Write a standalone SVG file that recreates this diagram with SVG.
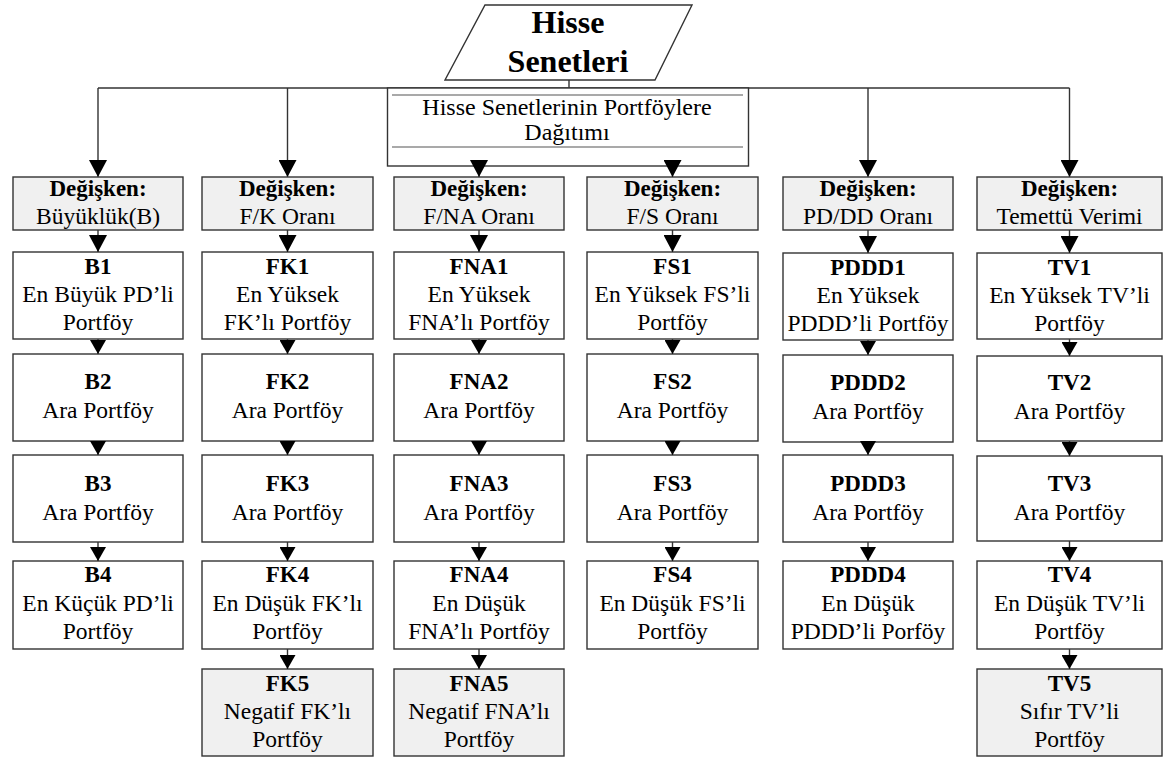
<svg xmlns="http://www.w3.org/2000/svg" width="1176" height="758" viewBox="0 0 1176 758">
  <style>
    .box { fill: #ffffff; stroke: #333333; stroke-width: 1.4; }
    .var { fill: #f0f0f0; stroke: #333333; stroke-width: 1.4; }
    .rule { stroke: #555555; stroke-width: 1.2; }
    .wire { fill: none; stroke: #333333; stroke-width: 1.4; }
    .big { marker-end: url(#headL); }
    .small { marker-end: url(#headS); }
    text { fill: #000000; }
    .m { text-anchor: middle; }
    .t { font-size: 23.5px; }
    .b { font-size: 23px; font-weight: bold; }
    .title { font-size: 32px; font-weight: bold; }
    .dist { font-size: 24px; }
  </style>
  <defs>
    <marker id="headL" viewBox="0 0 17 18" refX="17" refY="9" markerWidth="17" markerHeight="18" markerUnits="userSpaceOnUse" orient="auto">
      <path d="M0,0 L17,9 L0,18 Z" fill="#000000"/>
    </marker>
    <marker id="headS" viewBox="0 0 14 16" refX="14" refY="8" markerWidth="14" markerHeight="16" markerUnits="userSpaceOnUse" orient="auto">
      <path d="M0,0 L14,8 L0,16 Z" fill="#000000"/>
    </marker>
  </defs>

  <rect width="1176" height="758" fill="#ffffff"/>

  <!-- trunk: source to the six variables -->
  <g id="connectors">
    <path class="wire" d="M569,80 V88"/>
    <path class="wire" d="M98,88 H1069.5"/>
    <path class="wire big" d="M98,88 V177"/>
    <path class="wire big" d="M287.5,88 V177"/>
    <path class="wire big" d="M868,88 V177"/>
    <path class="wire big" d="M1069.5,88 V177"/>
  </g>

  <!-- distribution step -->
  <g id="dagitim" font-family="'Liberation Serif', 'Times New Roman', serif">
    <rect class="box" x="387.5" y="88" width="361" height="78"/>
    <line class="rule" x1="392" y1="95" x2="743" y2="95"/>
    <line class="rule" x1="392" y1="147" x2="743" y2="147"/>
    <text class="dist m" x="567" y="115">Hisse Senetlerinin Portföylere</text>
    <text class="dist m" x="567" y="140">Dağıtımı</text>
  </g>

  <!-- source -->
  <g id="hisse-senetleri" font-family="'Liberation Serif', 'Times New Roman', serif">
    <polygon class="box" points="485,5 692,5 655,80 445,80"/>
    <text class="title m" x="568" y="33">Hisse</text>
    <text class="title m" x="568" y="72">Senetleri</text>
  </g>

  <!-- variable headers -->
  <g id="var-b" font-family="'Liberation Serif', 'Times New Roman', serif"><rect class="var" x="13" y="177" width="170" height="53"/><text class="b m" x="98" y="196">Değişken:</text><text class="t m" x="98" y="224">Büyüklük(B)</text></g>
  <g id="var-fk" font-family="'Liberation Serif', 'Times New Roman', serif"><rect class="var" x="202" y="177" width="171" height="53"/><text class="b m" x="287.5" y="196">Değişken:</text><text class="t m" x="287.5" y="224">F/K Oranı</text></g>
  <g id="var-fna" font-family="'Liberation Serif', 'Times New Roman', serif"><rect class="var" x="394" y="177" width="170" height="53"/><text class="b m" x="479" y="196">Değişken:</text><text class="t m" x="479" y="224">F/NA Oranı</text></g>
  <g id="var-fs" font-family="'Liberation Serif', 'Times New Roman', serif"><rect class="var" x="587" y="177" width="171" height="53"/><text class="b m" x="672.5" y="196">Değişken:</text><text class="t m" x="672.5" y="224">F/S Oranı</text></g>
  <g id="var-pddd" font-family="'Liberation Serif', 'Times New Roman', serif"><rect class="var" x="783" y="177" width="170" height="53"/><text class="b m" x="868" y="196">Değişken:</text><text class="t m" x="868" y="224">PD/DD Oranı</text></g>
  <g id="var-tv" font-family="'Liberation Serif', 'Times New Roman', serif"><rect class="var" x="977" y="177" width="185" height="53"/><text class="b m" x="1069.5" y="196">Değişken:</text><text class="t m" x="1069.5" y="224">Temettü Verimi</text></g>

  <!-- size portfolios -->
  <g id="b1" font-family="'Liberation Serif', 'Times New Roman', serif"><rect class="box" x="13" y="252" width="170" height="87"/><text class="b m" x="98" y="274">B1</text><text class="t m" x="98" y="302">En Büyük PD’li</text><text class="t m" x="98" y="330">Portföy</text></g>
  <g id="b2" font-family="'Liberation Serif', 'Times New Roman', serif"><rect class="box" x="13" y="354" width="170" height="87"/><text class="b m" x="98" y="389">B2</text><text class="t m" x="98" y="418">Ara Portföy</text></g>
  <g id="b3" font-family="'Liberation Serif', 'Times New Roman', serif"><rect class="box" x="13" y="455" width="170" height="87"/><text class="b m" x="98" y="491">B3</text><text class="t m" x="98" y="520">Ara Portföy</text></g>
  <g id="b4" font-family="'Liberation Serif', 'Times New Roman', serif"><rect class="box" x="13" y="561" width="170" height="88"/><text class="b m" x="98" y="582">B4</text><text class="t m" x="98" y="611">En Küçük PD’li</text><text class="t m" x="98" y="639">Portföy</text></g>

  <!-- F/K portfolios -->
  <g id="fk1" font-family="'Liberation Serif', 'Times New Roman', serif"><rect class="box" x="202" y="252" width="171" height="87"/><text class="b m" x="287.5" y="274">FK1</text><text class="t m" x="287.5" y="302">En Yüksek</text><text class="t m" x="287.5" y="330">FK’lı Portföy</text></g>
  <g id="fk2" font-family="'Liberation Serif', 'Times New Roman', serif"><rect class="box" x="202" y="354" width="171" height="87"/><text class="b m" x="287.5" y="389">FK2</text><text class="t m" x="287.5" y="418">Ara Portföy</text></g>
  <g id="fk3" font-family="'Liberation Serif', 'Times New Roman', serif"><rect class="box" x="202" y="455" width="171" height="87"/><text class="b m" x="287.5" y="491">FK3</text><text class="t m" x="287.5" y="520">Ara Portföy</text></g>
  <g id="fk4" font-family="'Liberation Serif', 'Times New Roman', serif"><rect class="box" x="202" y="561" width="171" height="88"/><text class="b m" x="287.5" y="582">FK4</text><text class="t m" x="287.5" y="611">En Düşük FK’lı</text><text class="t m" x="287.5" y="639">Portföy</text></g>
  <g id="fk5" font-family="'Liberation Serif', 'Times New Roman', serif"><rect class="var" x="202" y="669" width="171" height="87"/><text class="b m" x="287.5" y="691">FK5</text><text class="t m" x="287.5" y="719">Negatif FK’lı</text><text class="t m" x="287.5" y="747">Portföy</text></g>

  <!-- F/NA portfolios -->
  <g id="fna1" font-family="'Liberation Serif', 'Times New Roman', serif"><rect class="box" x="394" y="252" width="170" height="87"/><text class="b m" x="479" y="274">FNA1</text><text class="t m" x="479" y="302">En Yüksek</text><text class="t m" x="479" y="330">FNA’lı Portföy</text></g>
  <g id="fna2" font-family="'Liberation Serif', 'Times New Roman', serif"><rect class="box" x="394" y="354" width="170" height="87"/><text class="b m" x="479" y="389">FNA2</text><text class="t m" x="479" y="418">Ara Portföy</text></g>
  <g id="fna3" font-family="'Liberation Serif', 'Times New Roman', serif"><rect class="box" x="394" y="455" width="170" height="87"/><text class="b m" x="479" y="491">FNA3</text><text class="t m" x="479" y="520">Ara Portföy</text></g>
  <g id="fna4" font-family="'Liberation Serif', 'Times New Roman', serif"><rect class="box" x="394" y="561" width="170" height="88"/><text class="b m" x="479" y="582">FNA4</text><text class="t m" x="479" y="611">En Düşük</text><text class="t m" x="479" y="639">FNA’lı Portföy</text></g>
  <g id="fna5" font-family="'Liberation Serif', 'Times New Roman', serif"><rect class="var" x="394" y="669" width="170" height="87"/><text class="b m" x="479" y="691">FNA5</text><text class="t m" x="479" y="719">Negatif FNA’lı</text><text class="t m" x="479" y="747">Portföy</text></g>

  <!-- F/S portfolios -->
  <g id="fs1" font-family="'Liberation Serif', 'Times New Roman', serif"><rect class="box" x="587" y="252" width="171" height="87"/><text class="b m" x="672.5" y="274">FS1</text><text class="t m" x="672.5" y="302">En Yüksek FS’li</text><text class="t m" x="672.5" y="330">Portföy</text></g>
  <g id="fs2" font-family="'Liberation Serif', 'Times New Roman', serif"><rect class="box" x="587" y="354" width="171" height="87"/><text class="b m" x="672.5" y="389">FS2</text><text class="t m" x="672.5" y="418">Ara Portföy</text></g>
  <g id="fs3" font-family="'Liberation Serif', 'Times New Roman', serif"><rect class="box" x="587" y="455" width="171" height="87"/><text class="b m" x="672.5" y="491">FS3</text><text class="t m" x="672.5" y="520">Ara Portföy</text></g>
  <g id="fs4" font-family="'Liberation Serif', 'Times New Roman', serif"><rect class="box" x="587" y="561" width="171" height="88"/><text class="b m" x="672.5" y="582">FS4</text><text class="t m" x="672.5" y="611">En Düşük FS’li</text><text class="t m" x="672.5" y="639">Portföy</text></g>

  <!-- PD/DD portfolios -->
  <g id="pddd1" font-family="'Liberation Serif', 'Times New Roman', serif"><rect class="box" x="783" y="253" width="170" height="87"/><text class="b m" x="868" y="275">PDDD1</text><text class="t m" x="868" y="303">En Yüksek</text><text class="t m" x="868" y="331">PDDD’li Portföy</text></g>
  <g id="pddd2" font-family="'Liberation Serif', 'Times New Roman', serif"><rect class="box" x="783" y="355" width="170" height="87"/><text class="b m" x="868" y="390">PDDD2</text><text class="t m" x="868" y="419">Ara Portföy</text></g>
  <g id="pddd3" font-family="'Liberation Serif', 'Times New Roman', serif"><rect class="box" x="783" y="455" width="170" height="87"/><text class="b m" x="868" y="491">PDDD3</text><text class="t m" x="868" y="520">Ara Portföy</text></g>
  <g id="pddd4" font-family="'Liberation Serif', 'Times New Roman', serif"><rect class="box" x="783" y="561" width="170" height="88"/><text class="b m" x="868" y="582">PDDD4</text><text class="t m" x="868" y="611">En Düşük</text><text class="t m" x="868" y="639">PDDD’li Porföy</text></g>

  <!-- dividend yield portfolios -->
  <g id="tv1" font-family="'Liberation Serif', 'Times New Roman', serif"><rect class="box" x="977" y="253" width="185" height="86"/><text class="b m" x="1069.5" y="275">TV1</text><text class="t m" x="1069.5" y="303">En Yüksek TV’li</text><text class="t m" x="1069.5" y="331">Portföy</text></g>
  <g id="tv2" font-family="'Liberation Serif', 'Times New Roman', serif"><rect class="box" x="977" y="356" width="185" height="85"/><text class="b m" x="1069.5" y="390">TV2</text><text class="t m" x="1069.5" y="419">Ara Portföy</text></g>
  <g id="tv3" font-family="'Liberation Serif', 'Times New Roman', serif"><rect class="box" x="977" y="456" width="185" height="85"/><text class="b m" x="1069.5" y="491">TV3</text><text class="t m" x="1069.5" y="520">Ara Portföy</text></g>
  <g id="tv4" font-family="'Liberation Serif', 'Times New Roman', serif"><rect class="box" x="977" y="561" width="185" height="88"/><text class="b m" x="1069.5" y="582">TV4</text><text class="t m" x="1069.5" y="611">En Düşük TV’li</text><text class="t m" x="1069.5" y="639">Portföy</text></g>
  <g id="tv5" font-family="'Liberation Serif', 'Times New Roman', serif"><rect class="var" x="977" y="669" width="185" height="87"/><text class="b m" x="1069.5" y="691">TV5</text><text class="t m" x="1069.5" y="719">Sıfır TV’li</text><text class="t m" x="1069.5" y="747">Portföy</text></g>

  <!-- chain arrows, drawn over the box edges -->
  <g id="connectors-chain">
    <path class="wire big" d="M479,160 V177"/>
    <path class="wire big" d="M672.5,160 V177"/>

    <path class="wire big" d="M98,230 V252"/>
    <path class="wire small" d="M98,339 V354"/>
    <path class="wire small" d="M98,441 V455"/>
    <path class="wire small" d="M98,542 V561"/>

    <path class="wire big" d="M287.5,230 V252"/>
    <path class="wire small" d="M287.5,339 V354"/>
    <path class="wire small" d="M287.5,441 V455"/>
    <path class="wire small" d="M287.5,542 V561"/>
    <path class="wire small" d="M287.5,649 V669"/>

    <path class="wire big" d="M479,230 V252"/>
    <path class="wire small" d="M479,339 V354"/>
    <path class="wire small" d="M479,441 V455"/>
    <path class="wire small" d="M479,542 V561"/>
    <path class="wire small" d="M479,649 V669"/>

    <path class="wire big" d="M672.5,230 V252"/>
    <path class="wire small" d="M672.5,339 V354"/>
    <path class="wire small" d="M672.5,441 V455"/>
    <path class="wire small" d="M672.5,542 V561"/>

    <path class="wire big" d="M868,230 V253"/>
    <path class="wire small" d="M868,340 V355"/>
    <path class="wire small" d="M868,442 V455"/>
    <path class="wire small" d="M868,542 V561"/>

    <path class="wire big" d="M1069.5,230 V253"/>
    <path class="wire small" d="M1069.5,339 V356"/>
    <path class="wire small" d="M1069.5,441 V456"/>
    <path class="wire small" d="M1069.5,541 V561"/>
    <path class="wire small" d="M1069.5,649 V669"/>
  </g>
</svg>
